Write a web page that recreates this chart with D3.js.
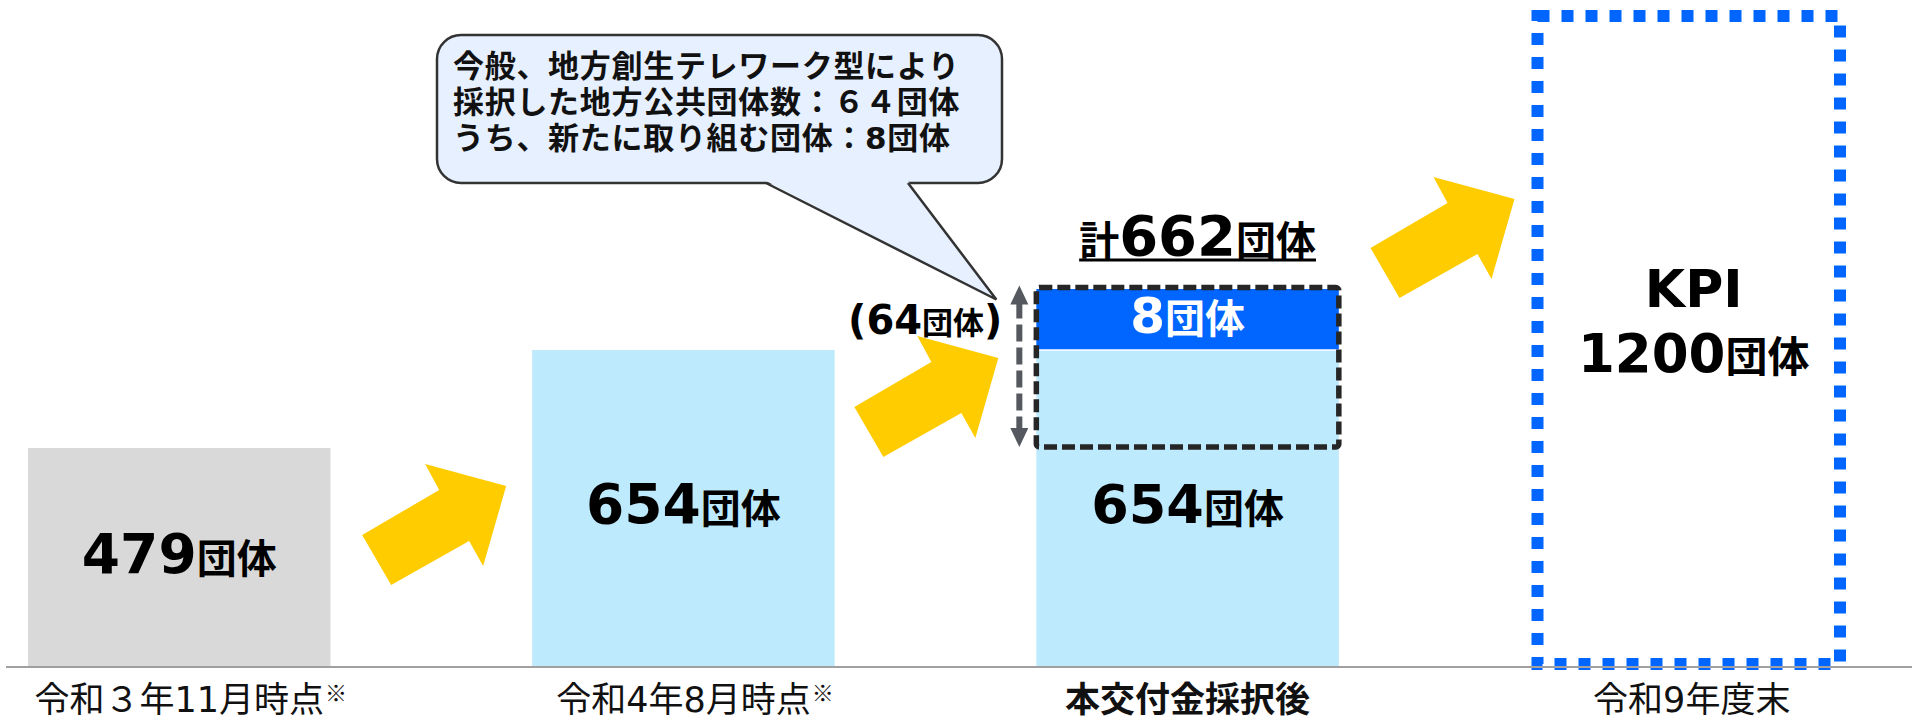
<!DOCTYPE html>
<html>
<head>
<meta charset="utf-8">
<script src="https://cdn.jsdelivr.net/npm/d3@7"></script>
<style>
  html, body { margin: 0; padding: 0; background: #fff; }
  svg { display: block; }
</style>
</head>
<body>
<svg id="chart"></svg>
<script>
// --- data ---
const categories = ["令和３年11月時点", "令和4年8月時点", "本交付金採択後", "令和9年度末"];
const notes = ["※", "※", "", ""];
const baseValues = [479, 654, 654, 1200];
const newValues = [0, 0, 8, 0];
const totals = [479, 654, 662, 1200];
const adopted = 64;
const unit = "団体";
const calloutLines = [
  "今般、地方創生テレワーク型により",
  "採択した地方公共団体数：６４団体",
  "うち、新たに取り組む団体：8団体"
];

// --- layout ---
const width = 1912;
const height = 721;
const baseY = 667;
const latin = "'DejaVu Sans', 'Noto Sans CJK JP', sans-serif";
const cjk = "'Noto Sans CJK JP', sans-serif";
const colors = { past: "#d9d9d9", light: "#bdeafd", blue: "#0066ff", arrow: "#ffcc00" };

const svg = d3.select("#chart")
  .attr("width", width)
  .attr("height", height);

const x = d3.scaleBand()
  .domain(categories)
  .range([28, 1843])
  .paddingInner(0.4)
  .paddingOuter(0);

// schematic scale: the original graphic is not drawn to proportion
const y = d3.scaleLinear()
  .domain([0, totals[0], totals[1], totals[2], totals[3]])
  .range([baseY, 448, 350, 289, 16]);

const bw = x.bandwidth();
const cx = c => x(c) + bw / 2;

function numLabel(g, xPos, yPos, num, numSize, unitSize, fill) {
  const t = g.append("text")
    .attr("x", xPos)
    .attr("y", yPos)
    .attr("text-anchor", "middle")
    .attr("font-weight", "bold")
    .attr("fill", fill || "#000");
  t.append("tspan").attr("font-family", latin).attr("font-size", numSize).text(num);
  t.append("tspan").attr("font-family", cjk).attr("font-size", unitSize).text(unit);
  return t;
}

// bars 1 and 2 (past counts)
svg.selectAll(".bar.past")
  .data([0, 1])
  .enter()
  .append("rect")
    .attr("class", "bar past")
    .attr("x", i => x(categories[i]))
    .attr("y", i => y(baseValues[i]))
    .attr("width", bw)
    .attr("height", i => y(0) - y(baseValues[i]))
    .attr("fill", i => i === 0 ? colors.past : colors.light);

// bar 3: stacked base + new
const c3 = categories[2];
svg.append("rect")
  .attr("x", x(c3))
  .attr("y", y(baseValues[2]))
  .attr("width", bw)
  .attr("height", y(0) - y(baseValues[2]))
  .attr("fill", colors.light);

svg.append("rect")
  .attr("x", x(c3))
  .attr("y", y(totals[2]))
  .attr("width", bw)
  .attr("height", y(baseValues[2]) - y(totals[2]))
  .attr("fill", colors.blue);

svg.append("line")
  .attr("x1", x(c3)).attr("x2", x(c3) + bw)
  .attr("y1", y(baseValues[2])).attr("y2", y(baseValues[2]))
  .attr("stroke", "#fff")
  .attr("stroke-width", 1.5);

// dashed box for the adopted 64
const boxTop = y(totals[2]) - 1.5;
const boxBottom = y(totals[0]) - 1;
svg.append("rect")
  .attr("x", x(c3))
  .attr("y", boxTop)
  .attr("width", bw)
  .attr("height", boxBottom - boxTop)
  .attr("rx", 3)
  .attr("fill", "none")
  .attr("stroke", "#262626")
  .attr("stroke-width", 5.5)
  .attr("stroke-dasharray", "13 5");

// KPI target box
const c4 = categories[3];
svg.append("rect")
  .attr("x", x(c4) - 3)
  .attr("y", y(totals[3]))
  .attr("width", bw)
  .attr("height", y(0) - 3 - y(totals[3]))
  .attr("fill", "none")
  .attr("stroke", colors.blue)
  .attr("stroke-width", 12)
  .attr("stroke-dasharray", "12 12");

// baseline
svg.append("line")
  .attr("x1", 6).attr("x2", width)
  .attr("y1", baseY).attr("y2", baseY)
  .attr("stroke", "#a0a0a0")
  .attr("stroke-width", 2);

// value labels inside bars
numLabel(svg, cx(categories[0]), (y(totals[0]) + y(0)) / 2 + 15, totals[0], 55, 40);
numLabel(svg, cx(categories[1]), (y(totals[1]) + y(0)) / 2 + 14, totals[1], 55, 40);
numLabel(svg, cx(c3), (y(baseValues[2]) + y(0)) / 2 + 14, baseValues[2], 54, 40);
numLabel(svg, cx(c3), (y(totals[2]) + y(baseValues[2])) / 2 + 13, newValues[2], 50, 40, "#fff");

// total above bar 3
const totalText = svg.append("text")
  .attr("x", cx(c3) + 10)
  .attr("y", y(totals[2]) - 34)
  .attr("text-anchor", "middle")
  .attr("font-weight", "bold");
totalText.append("tspan").attr("font-family", cjk).attr("font-size", 40).text("計");
totalText.append("tspan").attr("font-family", latin).attr("font-size", 56).text(totals[2]);
totalText.append("tspan").attr("font-family", cjk).attr("font-size", 40).text(unit);
const tb = totalText.node().getBBox();
svg.append("line")
  .attr("x1", tb.x).attr("x2", tb.x + tb.width)
  .attr("y1", y(totals[2]) - 29).attr("y2", y(totals[2]) - 29)
  .attr("stroke", "#000")
  .attr("stroke-width", 3);

// KPI label
const kpiX = cx(c4) + 2;
const kpiMid = (y(totals[3]) + y(0)) / 2;
svg.append("text")
  .attr("x", kpiX)
  .attr("y", kpiMid - 35)
  .attr("text-anchor", "middle")
  .attr("font-family", latin)
  .attr("font-weight", "bold")
  .attr("font-size", 52)
  .text("KPI");
numLabel(svg, kpiX, kpiMid + 30, totals[3], 53, 42);

// double-headed dashed arrow beside the box
const dax = x(c3) - 17;
const daTop = boxTop - 2;
const daBottom = boxBottom;
svg.append("line")
  .attr("x1", dax).attr("x2", dax)
  .attr("y1", daTop + 16).attr("y2", daBottom - 16)
  .attr("stroke", "#55595f")
  .attr("stroke-width", 6)
  .attr("stroke-dasharray", "17 6");
svg.append("path")
  .attr("d", `M${dax},${daTop} L${dax + 9},${daTop + 19} L${dax - 9},${daTop + 19} Z`
    + `M${dax},${daBottom} L${dax + 9},${daBottom - 19} L${dax - 9},${daBottom - 19} Z`)
  .attr("fill", "#55595f");

// (64団体)
const adoptedText = svg.append("text")
  .attr("x", dax - 17)
  .attr("y", (boxTop + boxBottom) / 2 - 33)
  .attr("text-anchor", "end")
  .attr("font-weight", "bold");
adoptedText.append("tspan").attr("font-family", latin).attr("font-size", 40).text("(" + adopted);
adoptedText.append("tspan").attr("font-family", cjk).attr("font-size", 31).text(unit);
adoptedText.append("tspan").attr("font-family", latin).attr("font-size", 40).text(")");

// yellow arrows between steps (decorative)
const arrowShape = [[0, 0], [29, 50], [107, 6], [121, 31], [144, -49], [63, -71], [77, -45]];
const arrowTipX = [x(categories[1]) - 26, dax - 21, x(c4) - 26];
const arrowTipY = [486, 358, 199];
svg.selectAll(".arrow")
  .data(arrowTipX)
  .enter()
  .append("path")
    .attr("class", "arrow")
    .attr("d", (d, i) => {
      const ox = d - 144, oy = arrowTipY[i] + 49;
      return "M" + arrowShape.map(p => (ox + p[0]) + "," + (oy + p[1])).join("L") + "Z";
    })
    .attr("fill", colors.arrow);

// callout bubble
const bub = { x: 437, y: 35, w: 565, h: 148 };
const tip = [dax - 23, daTop + 14];
svg.append("rect")
  .attr("x", bub.x).attr("y", bub.y)
  .attr("width", bub.w).attr("height", bub.h)
  .attr("rx", 24)
  .attr("fill", "#e6f0ff")
  .attr("stroke", "#333")
  .attr("stroke-width", 2.5);
svg.append("path")
  .attr("d", `M766,${bub.y + bub.h - 2} L908,${bub.y + bub.h - 2} L${tip[0]},${tip[1]} Z`)
  .attr("fill", "#e6f0ff");
svg.append("path")
  .attr("d", `M766,${bub.y + bub.h} L${tip[0]},${tip[1]} L908,${bub.y + bub.h}`)
  .attr("fill", "none")
  .attr("stroke", "#333")
  .attr("stroke-width", 2.5)
  .attr("stroke-linejoin", "miter");

svg.selectAll(".callout-line")
  .data(calloutLines)
  .enter()
  .append("text")
    .attr("class", "callout-line")
    .attr("x", bub.x + 16)
    .attr("y", (d, i) => bub.y + 42 + i * 36)
    .attr("font-family", latin)
    .attr("font-weight", "bold")
    .attr("font-size", 31)
    .attr("letter-spacing", 0.7)
    .attr("fill", "#111")
    .text(d => d);

// category labels under the baseline
const labels = svg.selectAll(".cat")
  .data(categories)
  .enter()
  .append("text")
    .attr("class", "cat")
    .attr("x", d => cx(d))
    .attr("y", baseY + 45)
    .attr("text-anchor", "middle")
    .attr("font-family", latin)
    .attr("font-size", 35)
    .attr("font-weight", (d, i) => i === 2 ? "bold" : "normal")
    .attr("fill", "#111")
    .text(d => d);

labels.each(function(d, i) {
  if (!notes[i]) return;
  const b = this.getBBox();
  svg.append("text")
    .attr("x", b.x + b.width + 1)
    .attr("y", baseY + 34)
    .attr("font-family", cjk)
    .attr("font-size", 22)
    .attr("fill", "#111")
    .text(notes[i]);
});
</script>
</body>
</html>
